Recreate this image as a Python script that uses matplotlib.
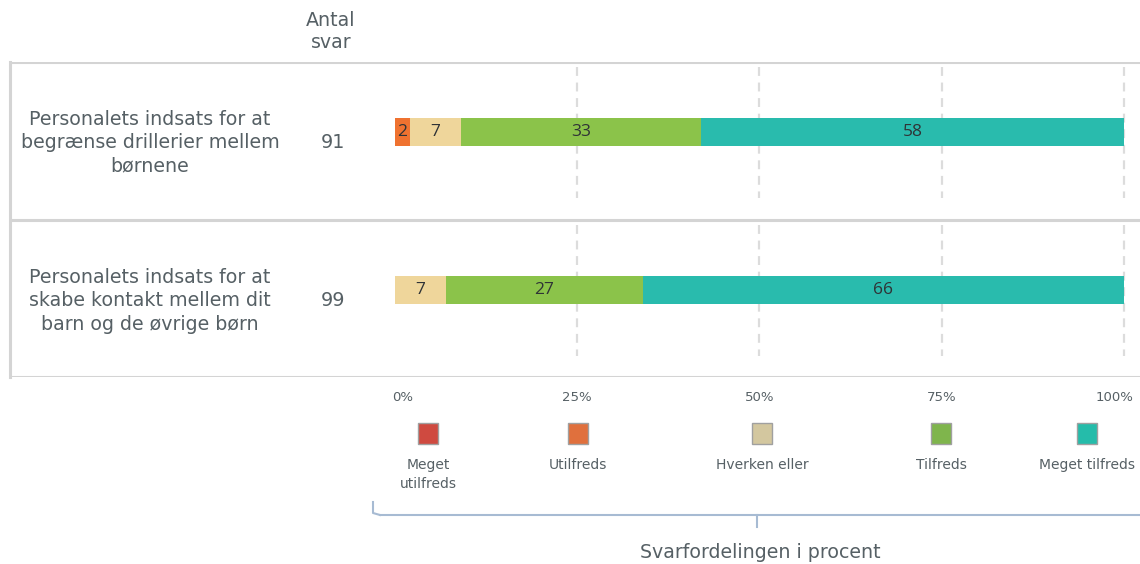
import matplotlib
matplotlib.use("Agg")
import matplotlib.pyplot as plt
from matplotlib.lines import Line2D
from matplotlib.patches import Rectangle
from matplotlib.transforms import offset_copy

plt.rcParams['font.family'] = ['DejaVu Sans']

# -------------------
# DATA
# -------------------
questions = [
    "Personalets indsats for at\nbegrænse drillerier mellem\nbørnene",
    "Personalets indsats for at\nskabe kontakt mellem dit\nbarn og de øvrige børn",
]
answers = [91, 99]
categories = ["Meget\nutilfreds", "Utilfreds", "Hverken eller", "Tilfreds", "Meget tilfreds"]
colors = ["#d9473c", "#ef7230", "#efd69b", "#8bc34a", "#29bbad"]
legend_colors = ["#cf4a40", "#e0703d", "#d3c79f", "#7fb54c", "#25bcaa"]
meget_utilfreds = [0, 0]
utilfreds = [2, 0]
hverken = [7, 7]
tilfreds = [33, 27]
meget_tilfreds = [58, 66]
ticks = [0, 25, 50, 75, 100]
tick_labels = ["0%", "25%", "50%", "75%", "100%"]

W, H = 1140, 564
text_col = "#566065"
line_col = "#d4d4d4"
big = 13.7

fig = plt.figure(figsize=(W / 100, H / 100), dpi=100)


def fx(px):
    return px / W


def fy(py):
    return 1 - py / H


# axes box: x 10..1140 px, y 62..377 px
ax = fig.add_axes([fx(10), fy(377), fx(1130), fy(62) - fy(377)])
px_per_pct = (1124 - 395) / 100
ax.set_xlim(-(395 - 10) / px_per_pct, (1140 - 395) / px_per_pct)
ax.set_ylim(1.551, -0.443)

series = [meget_utilfreds, utilfreds, hverken, tilfreds, meget_tilfreds]
rows = range(len(questions))
left = [0] * len(questions)
for vals, col in zip(series, colors):
    ax.barh(rows, vals, left=left, height=0.178, color=col, edgecolor="none", zorder=3)
    for r in rows:
        if vals[r] > 0:
            ax.text(left[r] + vals[r] / 2, r, str(vals[r]), ha="center", va="center",
                    fontsize=12.5, color="#2f3336", zorder=4, family=['Open Sans'])
    left = [l + v for l, v in zip(left, vals)]

# dashed gridlines per row
for r in rows:
    ax.vlines(ticks[1:], r - 0.411, r + 0.418, colors="#dcdcdc", linestyles=(0, (4, 3)),
              linewidth=1.6, zorder=1)

for yl in [-0.443, 0.557, 1.551]:
    ax.axhline(yl, color=line_col, lw=2.2, zorder=2)

for s in ["top", "right", "bottom"]:
    ax.spines[s].set_visible(False)
ax.spines["left"].set_color(line_col)
ax.spines["left"].set_linewidth(2.2)

ax.set_yticks([])
ax.set_xticks(ticks)
ax.set_xticklabels(tick_labels, fontsize=9.5, color=text_col)
ax.tick_params(axis="x", length=0, pad=10)
tl = ax.get_xticklabels()
tl[0].set_transform(offset_copy(tl[0].get_transform(), fig=fig, x=8, y=0, units="dots"))
tl[-1].set_transform(offset_copy(tl[-1].get_transform(), fig=fig, x=-9, y=0, units="dots"))

# row labels and counts
for r in rows:
    ax.text((150 - 395) / px_per_pct, r + 0.068, questions[r], ha="center", va="center",
            fontsize=big, color=text_col, linespacing=1.31)
    ax.text((333 - 395) / px_per_pct, r + 0.068, str(answers[r]), ha="center", va="center",
            fontsize=big, color=text_col)

fig.text(fx(331), fy(32), "Antal\nsvar", ha="center", va="center", fontsize=big,
         color=text_col, linespacing=1.2)

# legend
legend_x = [428, 578, 762, 941, 1087]
for x, c, lab in zip(legend_x, legend_colors, categories):
    fig.patches.append(Rectangle((fx(x - 10), fy(444)), fx(20), fy(423) - fy(444),
                                 transform=fig.transFigure, facecolor=c,
                                 edgecolor="#a0a0a0", linewidth=1))
    fig.text(fx(x), fy(458), lab, ha="center", va="top", fontsize=10,
             color=text_col, linespacing=1.45)

# bracket
bc = "#a7bbd3"
fig.add_artist(Line2D([fx(373), fx(373), fx(380)], [fy(502), fy(513), fy(515)],
                      color=bc, lw=1.5))
fig.add_artist(Line2D([fx(380), fx(1140)], [fy(515), fy(515)], color=bc, lw=1.5))
fig.add_artist(Line2D([fx(757), fx(757)], [fy(515), fy(527)], color=bc, lw=1.5))

fig.text(fx(760), fy(553), "Svarfordelingen i procent", ha="center", va="center",
         fontsize=big, color=text_col)

fig.savefig("out.png", dpi=100)
